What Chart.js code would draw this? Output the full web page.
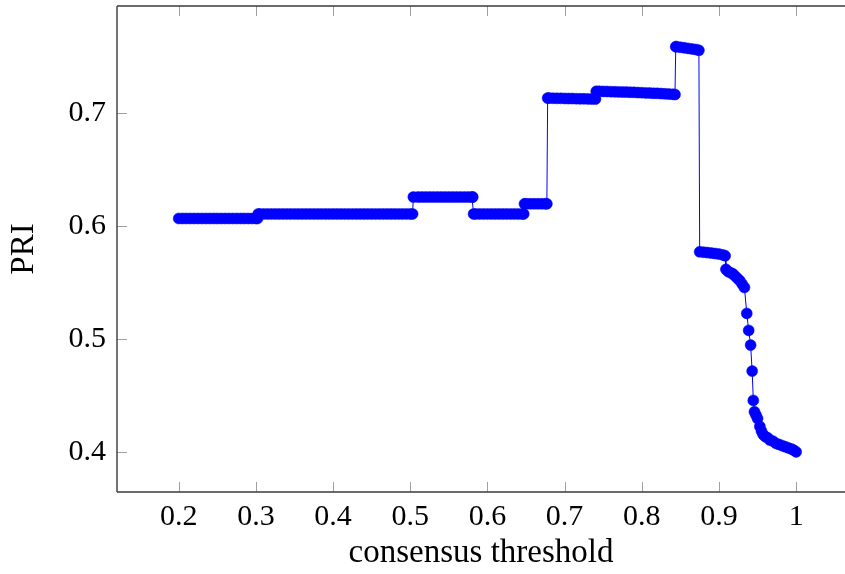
<!DOCTYPE html>
<html>
<head>
<meta charset="utf-8">
<script src="https://cdn.jsdelivr.net/npm/chart.js@4"></script>
<style>
  html, body { margin: 0; padding: 0; background: #fff; overflow: hidden; }
  canvas { display: block; }
</style>
</head>
<body>
<canvas id="chart" width="845" height="574"></canvas>
<script>
// consensus threshold values (x)
const thresholds = [
  0.200, 0.205, 0.210, 0.215, 0.220, 0.225, 0.230, 0.235, 0.240, 0.245, 0.250,
  0.255, 0.260, 0.265, 0.270, 0.275, 0.280, 0.285, 0.290, 0.295, 0.300, 0.302,
  0.303, 0.305, 0.310, 0.315, 0.320, 0.325, 0.330, 0.335, 0.340, 0.345, 0.350,
  0.355, 0.360, 0.365, 0.370, 0.375, 0.380, 0.385, 0.390, 0.395, 0.400,
  0.405, 0.410, 0.415, 0.420, 0.425, 0.430, 0.435, 0.440, 0.445, 0.450,
  0.455, 0.460, 0.465, 0.470, 0.475, 0.480, 0.485, 0.490, 0.495, 0.500, 0.503,
  0.504, 0.510, 0.515, 0.520, 0.525, 0.530, 0.535, 0.540, 0.545,
  0.550, 0.555, 0.560, 0.565, 0.570, 0.575, 0.580, 0.581,
  0.582, 0.585, 0.590, 0.595, 0.600, 0.605, 0.610, 0.615,
  0.620, 0.625, 0.630, 0.635, 0.640, 0.645, 0.647,
  0.648, 0.650, 0.655, 0.660, 0.665, 0.670, 0.675, 0.677,
  0.678, 0.680, 0.685, 0.690, 0.695, 0.700, 0.705,
  0.710, 0.715, 0.720, 0.725, 0.730, 0.735, 0.740,
  0.741, 0.745, 0.750, 0.755, 0.760, 0.765, 0.770, 0.775, 0.780, 0.785, 0.790,
  0.795, 0.800, 0.805, 0.810, 0.815, 0.820, 0.825, 0.830, 0.835, 0.840, 0.843,
  0.844, 0.845, 0.850, 0.855, 0.860, 0.865, 0.870, 0.874,
  0.875, 0.880, 0.885, 0.890, 0.895, 0.900, 0.905, 0.908,
  0.909, 0.912, 0.915, 0.918, 0.921, 0.924, 0.927, 0.930, 0.933,
  0.936, 0.9385, 0.941, 0.943, 0.9445, 0.946, 0.948, 0.950,
  0.953, 0.955, 0.957, 0.960, 0.963, 0.966, 0.970, 0.974, 0.978, 0.982, 0.986,
  0.990, 0.994, 0.997, 1.000
];

// PRI values (y)
const pri = [
  0.607, 0.607, 0.607, 0.607, 0.607, 0.607, 0.607, 0.607, 0.607, 0.607, 0.607,
  0.607, 0.607, 0.607, 0.607, 0.607, 0.607, 0.607, 0.607, 0.607, 0.607, 0.607,
  0.611, 0.611, 0.611, 0.611, 0.611, 0.611, 0.611, 0.611, 0.611, 0.611, 0.611,
  0.611, 0.611, 0.611, 0.611, 0.611, 0.611, 0.611, 0.611, 0.611, 0.611,
  0.611, 0.611, 0.611, 0.611, 0.611, 0.611, 0.611, 0.611, 0.611, 0.611,
  0.611, 0.611, 0.611, 0.611, 0.611, 0.611, 0.611, 0.611, 0.611, 0.611, 0.611,
  0.626, 0.626, 0.626, 0.626, 0.626, 0.626, 0.626, 0.626, 0.626,
  0.626, 0.626, 0.626, 0.626, 0.626, 0.626, 0.626, 0.626,
  0.611, 0.611, 0.611, 0.611, 0.611, 0.611, 0.611, 0.611,
  0.611, 0.611, 0.611, 0.611, 0.611, 0.611, 0.611,
  0.620, 0.620, 0.620, 0.620, 0.620, 0.620, 0.620, 0.620,
  0.7135, 0.7135, 0.7134, 0.7133, 0.7133, 0.7132, 0.7131,
  0.7131, 0.7130, 0.7129, 0.7129, 0.7128, 0.7127, 0.7127,
  0.7195, 0.7195, 0.7194, 0.7193, 0.7192, 0.7191, 0.7190, 0.7189, 0.7188, 0.7187, 0.7186,
  0.7184, 0.7183, 0.7181, 0.7180, 0.7178, 0.7177, 0.7175, 0.7173, 0.7171, 0.7169, 0.7167,
  0.7590, 0.7590, 0.7585, 0.7580, 0.7575, 0.7570, 0.7565, 0.7558,
  0.5775, 0.5772, 0.5768, 0.5764, 0.5760, 0.5755, 0.5748, 0.5740,
  0.562, 0.560, 0.559, 0.558, 0.556, 0.554, 0.552, 0.549, 0.546,
  0.523, 0.508, 0.495, 0.472, 0.446, 0.436, 0.433, 0.430,
  0.423, 0.419, 0.416, 0.414, 0.413, 0.411, 0.410, 0.408, 0.407, 0.406, 0.405,
  0.404, 0.403, 0.402, 0.4005
];

const xTicks = [0.2, 0.3, 0.4, 0.5, 0.6, 0.7, 0.8, 0.9, 1];
const xTickLabels = ['0.2', '0.3', '0.4', '0.5', '0.6', '0.7', '0.8', '0.9', '1'];
const yTicks = [0.4, 0.5, 0.6, 0.7];
const yTickLabels = ['0.4', '0.5', '0.6', '0.7'];

const blue = '#0000ff';
const font = { family: "'Liberation Serif', serif", size: 30 };
const titleFont = { family: "'Liberation Serif', serif", size: 33 };

// no extra label overflow padding, chart area is set by hand
function noPad(s) {
  s.paddingTop = 0;
  s.paddingBottom = 0;
  s.paddingLeft = 0;
  s.paddingRight = 0;
}

// pgfplots style box with inward ticks
const frame = {
  id: 'frame',
  beforeDatasetsDraw(chart) {
    const { ctx, chartArea: a, scales: { x, y } } = chart;
    const seg = (x1, y1, x2, y2) => {
      ctx.beginPath();
      ctx.moveTo(x1, y1);
      ctx.lineTo(x2, y2);
      ctx.stroke();
    };
    ctx.save();
    ctx.strokeStyle = '#a0a0a0';
    ctx.lineWidth = 1;
    xTicks.forEach(v => {
      const px = Math.round(x.getPixelForValue(v)) + 0.5;
      seg(px, a.bottom, px, a.bottom - 10);
      seg(px, a.top, px, a.top + 10);
    });
    yTicks.forEach(v => {
      const py = Math.round(y.getPixelForValue(v)) + 0.5;
      seg(a.left, py, a.left + 10, py);
    });
    ctx.strokeStyle = '#3a3a3a';
    ctx.lineWidth = 1.4;
    seg(a.left, a.top, a.left, a.bottom);
    seg(a.left, a.bottom, a.right, a.bottom);
    seg(a.left, a.top, a.right, a.top);
    ctx.restore();
  }
};

new Chart(document.getElementById('chart').getContext('2d'), {
  type: 'line',
  data: {
    datasets: [{
      data: thresholds.map((t, i) => ({ x: t, y: pri[i] })),
      borderColor: blue,
      borderWidth: 1,
      pointRadius: 5.5,
      pointBackgroundColor: blue,
      pointBorderColor: blue,
      pointBorderWidth: 0.5,
      tension: 0,
      fill: false
    }]
  },
  options: {
    responsive: false,
    animation: false,
    events: [],
    layout: { autoPadding: false, padding: { top: 6, left: 0, right: 0, bottom: 0 } },
    plugins: { legend: { display: false }, tooltip: { enabled: false } },
    scales: {
      x: {
        type: 'linear',
        min: 0.12,
        max: 1.0633,
        grid: { display: false, drawTicks: false },
        border: { display: false },
        afterFit(s) { s.height = 82; noPad(s); },
        afterBuildTicks(s) { s.ticks = xTicks.map(v => ({ value: v })); },
        ticks: {
          color: '#000',
          font: font,
          padding: 7,
          maxRotation: 0,
          autoSkip: false,
          callback: (v, i) => xTickLabels[i]
        },
        title: {
          display: true,
          text: 'consensus threshold',
          color: '#000',
          font: titleFont,
          padding: { top: 0, bottom: 1 }
        }
      },
      y: {
        min: 0.365,
        max: 0.795,
        grid: { display: false, drawTicks: false },
        border: { display: false },
        afterFit(s) { s.width = 117; noPad(s); },
        afterBuildTicks(s) { s.ticks = yTicks.map(v => ({ value: v })); },
        ticks: {
          color: '#000',
          font: font,
          padding: 11,
          callback: (v, i) => yTickLabels[i]
        },
        title: {
          display: true,
          text: 'PRI',
          color: '#000',
          font: titleFont,
          padding: { top: 5, bottom: 0 }
        }
      }
    }
  },
  plugins: [frame]
});
</script>
</body>
</html>
